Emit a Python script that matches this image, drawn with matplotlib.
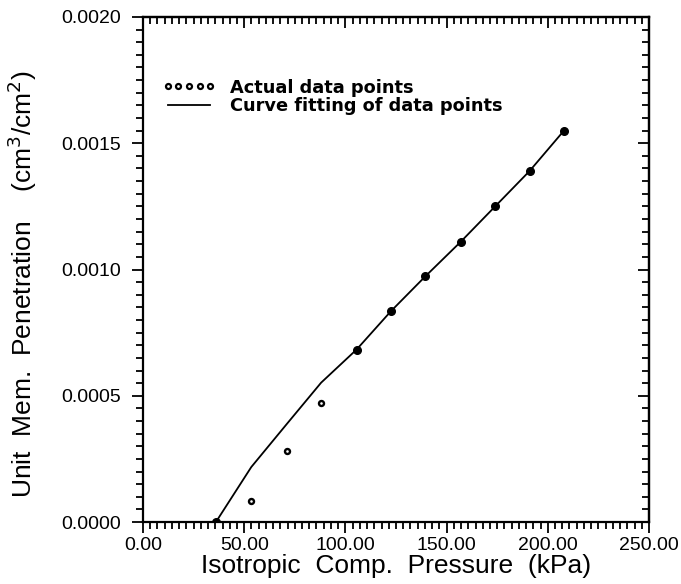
import matplotlib
matplotlib.use("Agg")
import matplotlib.pyplot as plt
import numpy as np
from matplotlib.ticker import MultipleLocator, FixedLocator, FormatStrFormatter
from matplotlib.lines import Line2D

# data
pressure = [36.0, 53.5, 71.0, 88.0, 105.5, 122.5, 139.5, 157.0, 174.0, 191.0, 208.0]
measured = [0.0, 0.000083, 0.000282, 0.000472, 0.000683, 0.000835, 0.000973, 0.00111, 0.00125, 0.00139, 0.00155]
fitted = [0.0, 0.000218, 0.000388, 0.000552, 0.000683, 0.000835, 0.000973, 0.00111, 0.00125, 0.00139, 0.00155]

plt.rcParams['font.family'] = ['Liberation Sans', 'DejaVu Sans']

fig = plt.figure(figsize=(6.81, 5.84), dpi=100)
ax = fig.add_axes([0.210, 0.106, 0.743, 0.865])

# points lying on the curve look solid in the scan
p = np.array(pressure)
m = np.array(measured)
on = np.isclose(m, np.array(fitted))
ax.plot(p[~on], m[~on], 'o', ms=3.6, mfc='white', mec='black', mew=1.7, zorder=3)
ax.plot(p[on], m[on], 'o', ms=5.5, mfc='black', mec='black', mew=1.0, zorder=3)
ax.plot(pressure, fitted, '-', color='black', lw=1.3, zorder=4)

ax.set_xlim(0, 250)
ax.set_ylim(0, 0.002)

xminor = np.linspace(0, 250, 71)
ax.xaxis.set_major_locator(MultipleLocator(50))
ax.xaxis.set_minor_locator(FixedLocator(xminor))
ax.yaxis.set_major_locator(MultipleLocator(0.0005))
ax.yaxis.set_minor_locator(MultipleLocator(0.00005))
ax.xaxis.set_major_formatter(FormatStrFormatter('%.2f'))
ax.yaxis.set_major_formatter(FormatStrFormatter('%.4f'))

ax.tick_params(which='both', direction='out', top=False, right=False, width=1.3, labelsize=14)
ax.tick_params(which='major', length=8)
ax.tick_params(which='minor', length=5)
ax.tick_params(axis='y', pad=8)
ax.tick_params(axis='x', pad=3)

# top and right ticks point inward
top = ax.secondary_xaxis('top')
top.xaxis.set_major_locator(MultipleLocator(50))
top.xaxis.set_minor_locator(FixedLocator(xminor))
top.tick_params(which='both', direction='in', labeltop=False, width=1.3)
top.tick_params(which='major', length=8)
top.tick_params(which='minor', length=5)
right = ax.secondary_yaxis('right')
right.yaxis.set_major_locator(MultipleLocator(0.0005))
right.yaxis.set_minor_locator(MultipleLocator(0.00005))
right.tick_params(which='both', direction='in', labelright=False, width=1.3)
right.tick_params(which='major', length=8)
right.tick_params(which='minor', length=5)

for s in ax.spines.values():
    s.set_linewidth(1.6)
top.spines['top'].set_linewidth(1.6)
right.spines['right'].set_linewidth(1.6)

ax.set_xlabel('Isotropic  Comp.  Pressure  (kPa)', fontsize=19, labelpad=0)
ax.set_ylabel('Unit  Mem.  Penetration    (cm$^3$/cm$^2$)', fontsize=19)
ax.yaxis.set_label_coords(-0.205, 0.47)

handles = [
    Line2D([], [], ls='none', marker='o', ms=3.6, mfc='white', mec='black', mew=1.6),
    Line2D([], [], color='black', lw=1.3),
]
ax.legend(handles, ['Actual data points', 'Curve fitting of data points'],
          loc='upper left', bbox_to_anchor=(0.038, 0.878), frameon=False,
          numpoints=5, handlelength=3.0, handletextpad=0.8, labelspacing=0.05,
          borderpad=0, borderaxespad=0,
          prop={'family': 'DejaVu Sans', 'size': 12.8, 'weight': 'bold'})

fig.savefig('out.png', dpi=100)
